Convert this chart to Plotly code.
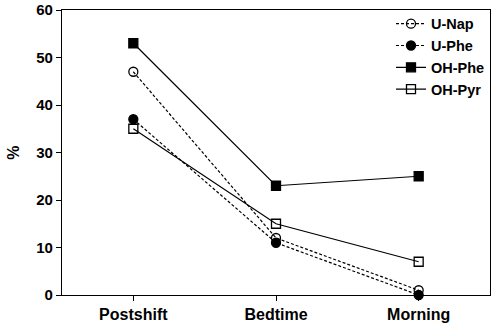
import plotly.graph_objects as go

categories = ["Postshift", "Bedtime", "Morning"]
u_nap = [47, 12, 1]
u_phe = [37, 11, 0]
oh_phe = [53, 23, 25]
oh_pyr = [35, 15, 7]
y_ticks = [0, 10, 20, 30, 40, 50, 60]

FONT = "Liberation Sans, Arial, sans-serif"

fig = go.Figure()
series = [
    ("U-Nap", u_nap, "circle-open", "3px,2px"),
    ("U-Phe", u_phe, "circle", "3px,2px"),
    ("OH-Phe", oh_phe, "square", "solid"),
    ("OH-Pyr", oh_pyr, "square-open", "solid"),
]
xs = list(range(len(categories)))
for name, vals, sym, dash in series:
    fig.add_trace(go.Scatter(
        x=xs, y=vals, name=name, mode="lines+markers",
        line=dict(color="black", width=1.2, dash=dash),
        marker=dict(symbol=sym, size=9, color="black",
                    line=dict(color="black", width=1.3)),
        cliponaxis=False,
    ))

fig.update_layout(
    width=492, height=325,
    margin=dict(l=62, r=2, t=10, b=30),
    plot_bgcolor="white", paper_bgcolor="white",
    showlegend=True,
    legend=dict(x=1.0, y=1.008, xanchor="right", yanchor="top",
                bgcolor="rgba(0,0,0,0)", borderwidth=0,
                font=dict(family=FONT, size=14.5, color="black", weight="bold"),
                itemwidth=30, tracegroupgap=0),
    font=dict(family=FONT, color="black"),
)
fig.update_xaxes(
    range=[-0.5, 2.5], tickvals=xs, ticktext=categories,
    showgrid=False, zeroline=False,
    showline=True, linecolor="black", linewidth=1.2, mirror=True,
    ticks="outside", ticklen=5, tickcolor="black", tickwidth=1,
    tickfont=dict(family=FONT, size=16, color="black", weight="bold"),
)
fig.update_yaxes(
    range=[0, 60], tickvals=y_ticks,
    showgrid=False, zeroline=False,
    showline=True, linecolor="black", linewidth=1.2, mirror=True,
    ticks="outside", ticklen=5, tickcolor="black", tickwidth=1,
    tickfont=dict(family=FONT, size=15, color="black", weight="bold"),
    title=dict(text="%", font=dict(family=FONT, size=16, color="black", weight="bold"), standoff=12),
)

fig.write_html("out.html", config={"displayModeBar": False},
               post_script="document.body.style.margin='0';document.body.style.overflow='hidden';")
